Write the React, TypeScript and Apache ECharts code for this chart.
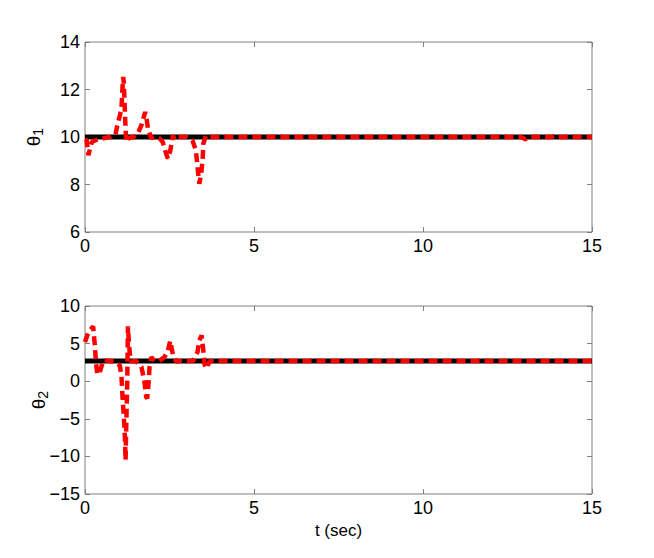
import React, { useEffect, useRef } from "react";
import * as echarts from "echarts";

// Top subplot (theta_1) – red dashed trajectory
const t1 = [0, 0.05, 0.1, 0.2, 0.38, 0.55, 0.73, 0.9, 0.97, 1.03, 1.08, 1.1, 1.13, 1.15, 1.18, 1.2, 1.22, 1.3, 1.42, 1.55, 1.67, 1.73, 1.78, 1.82, 1.86, 1.96, 2.05, 2.2, 2.3, 2.38, 2.45, 2.52, 2.6, 2.65, 2.75, 3.0, 3.18, 3.28, 3.33, 3.38, 3.43, 3.48, 3.5, 3.58, 3.7, 5, 8, 10, 12.9, 13.03, 13.15, 13.8, 13.9, 14.0, 15];
const th1 = [9.9, 9.86, 9.23, 9.79, 9.9, 9.95, 10.0, 10.1, 10.58, 10.9, 11.2, 11.85, 12.53, 12.27, 11.05, 10.37, 9.79, 9.95, 10.0, 10.1, 10.5, 10.8, 11.05, 10.8, 10.37, 9.95, 10.0, 9.95, 9.79, 9.4, 9.09, 9.4, 10.07, 9.9, 10.0, 10.0, 9.85, 9.44, 8.73, 8.03, 8.38, 9.02, 9.73, 10.05, 10.0, 10, 10, 10, 10, 9.9, 10, 10, 10.05, 10, 10];
// Bottom subplot (theta_2) – red dashed trajectory
const t2 = [0, 0.1, 0.17, 0.24, 0.29, 0.32, 0.36, 0.42, 0.54, 0.7, 0.88, 1.03, 1.08, 1.11, 1.15, 1.18, 1.2, 1.22, 1.25, 1.27, 1.3, 1.35, 1.5, 1.67, 1.76, 1.81, 1.84, 1.88, 1.91, 1.96, 2.06, 2.2, 2.35, 2.45, 2.52, 2.56, 2.6, 2.7, 2.85, 3.2, 3.33, 3.38, 3.45, 3.5, 3.53, 3.58, 3.7, 5, 15];
const th2 = [5.2, 6.5, 6.9, 7.3, 4.8, 2.8, 1.0, 0.9, 2.8, 2.7, 2.6, 2.1, 0.6, -2.1, -4.7, -7.4, -10.5, -6, 0, 7.3, 5, 2.6, 2.7, 1.9, -0.1, -2.1, -2.3, -0.3, 1.9, 3.2, 2.7, 2.7, 3.2, 4.0, 5.35, 4.5, 3.5, 2.6, 2.7, 2.7, 3.9, 5.4, 6.1, 4.1, 2.35, 1.7, 2.7, 2.7, 2.7];
// Desired (reference) values – black solid lines
const refT = [0, 15];
const ref1 = [10, 10];
const ref2 = [2.7, 2.7];

const xTicks = [0, 5, 10, 15];
const y1Ticks = [6, 8, 10, 12, 14];
const y2Ticks = [-15, -10, -5, 0, 5, 10];

const FONT = "Liberation Sans, Arial, Helvetica, sans-serif";
const GREY = "#7f7f7f";

const pairs = (xs: number[], ys: number[]) => xs.map((x, i) => [x, ys[i]]);
const fmt = (v: number) => String(v).replace("-", "\u2212");

export default function App() {
  const ref = useRef<HTMLDivElement>(null);
  useEffect(() => {
    if (!ref.current) return;
    const chart = echarts.init(ref.current, undefined, { renderer: "svg" });
    const label = { fontSize: 18, color: "#000", fontFamily: FONT, formatter: fmt };
    const tick = { show: true, inside: true, length: 5, lineStyle: { color: GREY } };
    const line = { show: false, onZero: false };
    const mkX = (g: number, bottom: boolean, extra: any = {}) => ({
      type: "value", gridIndex: g, min: xTicks[0], max: xTicks[xTicks.length - 1], interval: 5,
      position: bottom ? "bottom" : "top",
      axisLine: line, axisTick: tick, splitLine: { show: false },
      axisLabel: bottom ? { ...label, margin: 5 } : { show: false },
      ...extra,
    });
    const mkY = (g: number, ticks: number[], left: boolean, extra: any = {}) => ({
      type: "value", gridIndex: g, min: ticks[0], max: ticks[ticks.length - 1], interval: ticks[1] - ticks[0],
      position: left ? "left" : "right",
      axisLine: line, axisTick: tick, splitLine: { show: false },
      axisLabel: left ? { ...label, margin: 5 } : { show: false },
      ...extra,
    });
    const yName = (sub: string, gap: number) => ({
      name: `{a|θ}{b|${sub}}`,
      nameLocation: "middle",
      nameRotate: 90,
      nameGap: gap,
      nameMoveOverlap: false,
      nameTextStyle: {
        rich: {
          a: { fontSize: 19, fontFamily: FONT, color: "#000" },
          b: { fontSize: 14, fontFamily: FONT, color: "#000", padding: [10, 0, 0, 0] },
        },
      },
    });
    chart.setOption({
      animation: false,
      backgroundColor: "#fff",
      grid: [
        { left: 85, top: 42, width: 507, height: 190, show: true, borderColor: GREY, borderWidth: 1 },
        { left: 85, top: 306, width: 507, height: 188, show: true, borderColor: GREY, borderWidth: 1 },
      ],
      xAxis: [
        mkX(0, true),
        mkX(0, false),
        mkX(1, true, {
          name: "t (sec)", nameLocation: "middle", nameGap: 28, nameMoveOverlap: false,
          nameTextStyle: { fontSize: 17, fontFamily: FONT, color: "#000" },
        }),
        mkX(1, false),
      ],
      yAxis: [
        mkY(0, y1Ticks, true, yName("1", 40)),
        mkY(0, y1Ticks, false),
        mkY(1, y2Ticks, true, yName("2", 35)),
        mkY(1, y2Ticks, false),
      ],
      series: [
        {
          type: "line", xAxisIndex: 0, yAxisIndex: 0, data: pairs(refT, ref1), showSymbol: false,
          lineStyle: { color: "#000", width: 5 },
        },
        {
          type: "line", xAxisIndex: 0, yAxisIndex: 0, data: pairs(t1, th1), showSymbol: false,
          lineStyle: { color: "#ff0000", width: 4.5, type: [9, 5] },
        },
        {
          type: "line", xAxisIndex: 2, yAxisIndex: 2, data: pairs(refT, ref2), showSymbol: false,
          lineStyle: { color: "#000", width: 5 },
        },
        {
          type: "line", xAxisIndex: 2, yAxisIndex: 2, data: pairs(t2, th2), showSymbol: false,
          lineStyle: { color: "#ff0000", width: 4.5, type: [9, 5] },
        },
      ],
    });
    return () => chart.dispose();
  }, []);
  return (
    <div
      ref={ref}
      style={{ position: "fixed", left: 0, top: 0, width: 654, height: 558, background: "#fff" }}
    />
  );
}
